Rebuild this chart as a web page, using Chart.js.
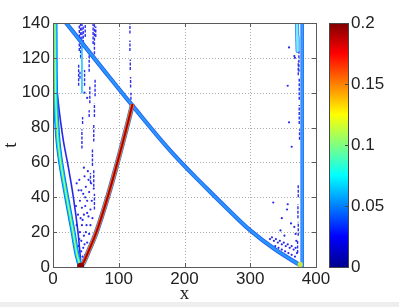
<!DOCTYPE html>
<html>
<head>
<meta charset="utf-8">
<script src="https://cdn.jsdelivr.net/npm/chart.js@4/dist/chart.umd.min.js"></script>
<style>
  body { margin: 0; background: #fff; }
</style>
</head>
<body>
<canvas id="chart" width="399" height="307"></canvas>
<script>
// axis ticks
var xTicks = [0, 100, 200, 300, 400];
var tTicks = [0, 20, 40, 60, 80, 100, 120, 140];
var cbTicks = [0, 0.05, 0.1, 0.15, 0.2];

// long diagonal front (x, t)
var diagX = [16, 20, 75, 120, 180, 234, 269, 300, 338, 376];
var diagT = [142, 140, 114, 93, 66, 45, 32, 21, 10, 1];

// right arm of the V (high values)
var redX = [42, 47, 54, 66, 83, 98, 112, 121];
var redT = [0, 3, 9, 20, 40, 60, 80, 93.5];

// left arm of the V
var yelX = [3, 3, 4, 7, 11.7, 20.8, 30.6, 36, 41];
var yelT = [142, 140, 98, 75, 60, 40, 20, 8, 1];

// inner contour of the left arm
var bluX = [5, 10, 16, 23, 31, 38, 42];
var bluT = [105, 88, 72, 58, 40, 20, 4];

// vertical fronts
var rightX = [379, 379];
var rightT = [0, 142];
var cyanRX = [371, 371.5, 372];
var cyanRT = [142, 132, 124];
var cyanLX = [44, 44];
var cyanLT = [128, 100];

// short low-level streaks: [x, t from, t to]
var streaks = [
    [40, 124, 142], [42, 120, 142], [44, 128, 142], [46, 126, 138], [49, 132, 142],
    [61, 128, 142], [63, 122, 142], [65, 132, 138],
    [39, 104, 116], [41, 108, 112], [48, 104, 113],
    [55, 112, 122], [56, 94, 104], [55, 86, 90],
    [64, 98, 108], [63, 86, 94], [62, 72, 82],
    [44, 68, 79], [45, 82, 86],
    [60, 58, 68], [62, 46, 56], [63, 33, 42], [57, 48, 54],
    [117, 134, 142], [117, 124, 130], [117.5, 113, 119], [118, 103, 109], [118.5, 96, 100],
    [374, 112, 124], [374.5, 96, 108], [374.5, 82, 93], [375, 73, 79], [373, 110, 118],
    [373, 40, 47], [372.5, 28, 36], [373, 18, 26], [372, 8, 15]
];

// scattered low-level specks: [x, t]
var specks = [
    [36, 48], [39, 44], [41, 38], [44, 34], [47, 30], [44, 24], [41, 20], [43, 15], [46, 11], [49, 7], [45, 6],
    [52, 14], [55, 19], [51, 24], [54, 29], [57, 33], [52, 38], [55, 43], [58, 48], [50, 46], [48, 52], [53, 55],
    [38, 30], [36, 24], [39, 12], [47, 18], [60, 28], [59, 38], [62, 45], [46, 42], [42, 28], [49, 35], [56, 9], [35, 35],
    [40, 16], [43, 9], [48, 13], [50, 20], [45, 27], [52, 31], [49, 40], [43, 44], [40, 50], [57, 24], [54, 50], [47, 57],
    [330, 16], [333, 17], [336, 15], [339, 16], [342, 14], [345, 15], [348, 13], [351, 14], [354, 12], [357, 13],
    [360, 11], [363, 12], [366, 10], [369, 11], [338, 12], [343, 11], [348, 10], [353, 9], [358, 8], [363, 7],
    [368, 6], [371, 8], [370, 15], [369, 19], [367, 23], [352, 18], [346, 21], [348, 28], [335, 37], [356, 33],
    [357, 36], [362, 25], [359, 126], [357, 104], [359, 83], [363, 69], [368, 120], [367, 121], [48, 100], [52, 97]
];

function pts(xs, ts) {
    return xs.map(function(x, i) { return { x: x, y: ts[i] }; });
}

var datasets = [];
function addLine(data, color, width, tension, dash) {
    datasets.push({ data: data, showLine: true, borderColor: color, borderWidth: width,
        pointRadius: 0, fill: false, tension: tension || 0, borderDash: dash || [],
        borderCapStyle: 'butt', borderJoinStyle: 'round' });
}
function addDots(data, color, r) {
    datasets.push({ data: data, showLine: false, pointRadius: r, backgroundColor: color,
        borderColor: color, pointBorderWidth: 0 });
}

// bottom layers first
addDots(specks.map(function(p) { return { x: p[0], y: p[1] }; }), 'rgb(40,40,235)', 1.1);
streaks.forEach(function(s) {
    addLine([{ x: s[0], y: s[1] }, { x: s[0], y: s[2] }], 'rgb(45,45,235)', 1.4, 0, [3, 1.5]);
});
addLine(pts(cyanLX, cyanLT), 'rgb(60,200,255)', 1.8);
addLine(pts(cyanRX, cyanRT), 'rgb(40,120,250)', 4);
addLine(pts(cyanRX, cyanRT), 'rgb(120,235,255)', 2.5);
addLine(pts(bluX, bluT), 'rgb(40,40,235)', 1.6, 0.3);
addLine(pts(rightX, rightT), 'rgb(30,100,250)', 3.5);
addLine(pts(rightX, rightT), 'rgb(50,160,255)', 2);
addLine(pts(diagX, diagT), 'rgb(35,95,240)', 4.2, 0.4);
addLine(pts(diagX, diagT), 'rgb(40,150,255)', 2.5, 0.4);
addLine(pts(yelX, yelT), 'rgb(0,110,255)', 5, 0.3);
addLine(pts(yelX, yelT), 'rgb(0,220,255)', 3.2, 0.3);
addLine(pts(yelX, yelT), 'rgb(200,255,70)', 1.2, 0.3);
addLine(pts(redX, redT), 'rgb(30,110,255)', 5, 0.4);
addLine(pts(redX, redT), 'rgb(255,150,0)', 3.6, 0.4);
addLine(pts(redX, redT), 'rgb(225,10,0)', 2.4, 0.4);
addLine(pts(redX, redT), 'rgb(140,0,0)', 1, 0.4);
addDots([{ x: 376, y: 1.5 }], 'rgb(200,235,60)', 2.6);
addDots([{ x: 42, y: 0.5 }], 'rgb(140,0,0)', 3.5);

datasets.forEach(function(d, i) { d.order = datasets.length - i; });

var jetStops = [[0, '#00008f'], [0.125, '#0000ff'], [0.375, '#00ffff'], [0.625, '#ffff00'], [0.875, '#ff0000'], [1, '#800000']];
var tickFont = { family: "'Liberation Sans', Arial, sans-serif", size: 17 };

var decor = {
    id: 'decor',
    beforeDraw: function(chart) {
        var ctx = chart.ctx;
        ctx.save();
        ctx.fillStyle = '#ffffff';
        ctx.fillRect(0, 0, chart.width, chart.height);
        ctx.fillStyle = '#eeeeee';
        ctx.fillRect(0, chart.height - 5, chart.width, 5);
        ctx.restore();
    },
    beforeDatasetsDraw: function(chart) {
        var ctx = chart.ctx, a = chart.chartArea;
        var xs = chart.scales.x, ys = chart.scales.y;
        ctx.save();
        ctx.strokeStyle = 'rgb(170,170,170)';
        ctx.lineWidth = 1;
        ctx.setLineDash([1, 2]);
        xTicks.slice(1, -1).forEach(function(v) {
            var px = Math.round(xs.getPixelForValue(v)) + 0.5;
            ctx.beginPath(); ctx.moveTo(px, a.top); ctx.lineTo(px, a.bottom); ctx.stroke();
        });
        tTicks.slice(1, -1).forEach(function(v) {
            var py = Math.round(ys.getPixelForValue(v)) + 0.5;
            ctx.beginPath(); ctx.moveTo(a.left, py); ctx.lineTo(a.right, py); ctx.stroke();
        });
        ctx.restore();
    },
    afterDatasetsDraw: function(chart) {
        var ctx = chart.ctx, a = chart.chartArea;
        var xs = chart.scales.x, ys = chart.scales.y;
        ctx.save();
        ctx.strokeStyle = 'rgb(90,90,90)';
        ctx.lineWidth = 1;
        ctx.strokeRect(a.left + 0.5, a.top + 0.5, a.right - a.left, a.bottom - a.top);
        ctx.beginPath();
        xTicks.forEach(function(v) {
            var px = Math.round(xs.getPixelForValue(v)) + 0.5;
            ctx.moveTo(px, a.bottom); ctx.lineTo(px, a.bottom - 4);
            ctx.moveTo(px, a.top); ctx.lineTo(px, a.top + 4);
        });
        tTicks.forEach(function(v) {
            var py = Math.round(ys.getPixelForValue(v)) + 0.5;
            ctx.moveTo(a.left, py); ctx.lineTo(a.left + 4, py);
            ctx.moveTo(a.right, py); ctx.lineTo(a.right - 4, py);
        });
        ctx.stroke();
        ctx.restore();
    },
    afterDraw: function(chart) {
        var ctx = chart.ctx, a = chart.chartArea;
        var x0 = a.right + 13, w = 19, top = a.top, bot = a.bottom;
        var cbMax = cbTicks[cbTicks.length - 1];
        ctx.save();
        var g = ctx.createLinearGradient(0, bot, 0, top);
        jetStops.forEach(function(s) { g.addColorStop(s[0], s[1]); });
        ctx.fillStyle = g;
        ctx.fillRect(x0, top, w, bot - top);
        ctx.strokeStyle = 'rgb(70,70,70)';
        ctx.lineWidth = 1;
        ctx.strokeRect(x0 + 0.5, top + 0.5, w, bot - top);
        ctx.fillStyle = '#222';
        ctx.font = tickFont.size + 'px ' + tickFont.family;
        ctx.textAlign = 'left';
        ctx.textBaseline = 'middle';
        ctx.beginPath();
        cbTicks.forEach(function(v) {
            var py = bot - (v / cbMax) * (bot - top);
            ctx.fillText(String(v), x0 + w + 3, py);
            var ly = Math.round(py) + 0.5;
            ctx.moveTo(x0 + w, ly); ctx.lineTo(x0 + w - 3, ly);
        });
        ctx.stroke();
        ctx.restore();
    }
};

new Chart(document.getElementById('chart').getContext('2d'), {
    type: 'scatter',
    data: { datasets: datasets },
    options: {
        responsive: false,
        animation: false,
        events: [],
        layout: { padding: { top: 23, right: 83, left: 0, bottom: 0 } },
        plugins: { legend: { display: false }, tooltip: { enabled: false } },
        scales: {
            x: {
                type: 'linear', min: 0, max: 400,
                afterBuildTicks: function(s) { s.ticks = xTicks.map(function(v) { return { value: v }; }); },
                grid: { display: false, drawTicks: false },
                border: { display: false },
                ticks: { font: tickFont, color: '#222', padding: 2, maxRotation: 0 },
                title: { display: true, text: 'x', color: '#222',
                    font: { family: "'Liberation Serif', 'Times New Roman', serif", size: 19 },
                    padding: { top: 0, bottom: 2 } },
                afterFit: function(s) { s.height = 40; }
            },
            y: {
                type: 'linear', min: 0, max: 140,
                afterBuildTicks: function(s) { s.ticks = tTicks.map(function(v) { return { value: v }; }); },
                grid: { display: false, drawTicks: false },
                border: { display: false },
                ticks: { font: tickFont, color: '#222', padding: 3 },
                title: { display: true, text: 't', color: '#222',
                    font: { family: "'Liberation Serif', 'Times New Roman', serif", size: 19 },
                    padding: { top: 0, bottom: 0 } },
                afterFit: function(s) { s.width = 53; }
            }
        }
    },
    plugins: [decor]
});
</script>
</body>
</html>
